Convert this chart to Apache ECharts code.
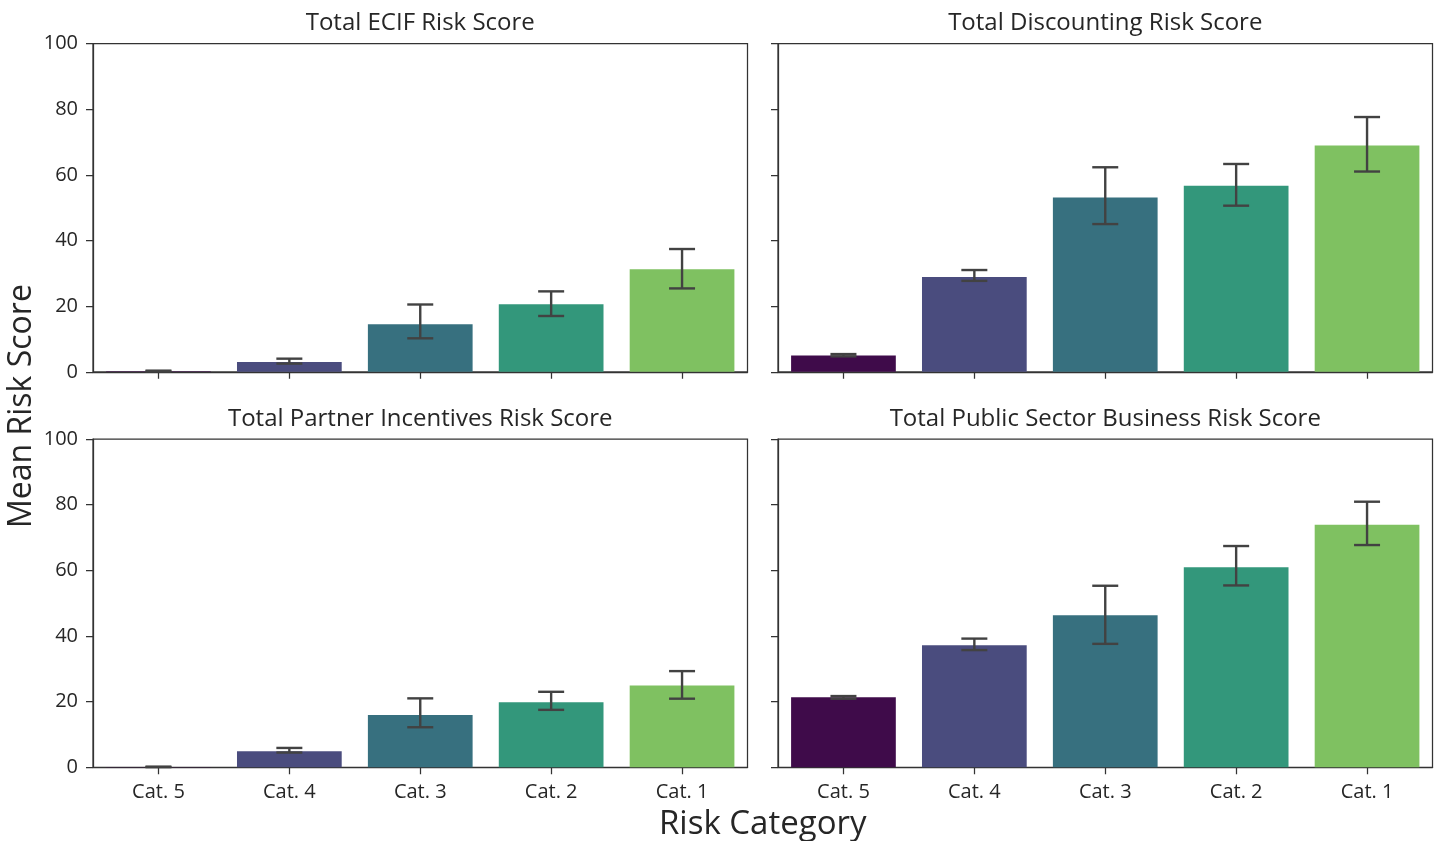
<!DOCTYPE html>
<html>
<head>
<meta charset="utf-8">
<title>Mean Risk Score by Risk Category</title>
<script src="https://cdn.jsdelivr.net/npm/echarts@6/dist/echarts.min.js"></script>
<style>
  html, body { margin: 0; padding: 0; background: #ffffff; }
  #chart { width: 1439px; height: 841px; }
</style>
</head>
<body>
<div id="chart"></div>
<script>
// Risk categories along the x axis
const categories = ['Cat. 5', 'Cat. 4', 'Cat. 3', 'Cat. 2', 'Cat. 1'];
// Bar colours per category (viridis, slightly desaturated)
const catColors = ['#3f0b4a', '#4a4c7e', '#37707f', '#33977b', '#7fc161'];
// Panel titles
const panelTitles = [
  'Total ECIF Risk Score',
  'Total Discounting Risk Score',
  'Total Partner Incentives Risk Score',
  'Total Public Sector Business Risk Score'
];
// Mean scores per panel
const ecifMean = [0.2, 3.0, 14.5, 20.6, 31.2];
const discountingMean = [5.0, 28.9, 53.1, 56.7, 68.9];
const partnerMean = [0.1, 4.9, 15.9, 19.8, 24.9];
const publicSectorMean = [21.3, 37.2, 46.3, 60.9, 73.9];
// Error bar lower bounds per panel
const ecifLow = [0.1, 2.5, 10.2, 17.0, 25.4];
const discountingLow = [4.7, 27.7, 45.0, 50.6, 61.0];
const partnerLow = [0.05, 4.5, 12.2, 17.5, 20.9];
const publicSectorLow = [20.9, 35.7, 37.6, 55.4, 67.7];
// Error bar upper bounds per panel
const ecifHigh = [0.35, 4.0, 20.5, 24.5, 37.4];
const discountingHigh = [5.4, 31.0, 62.3, 63.3, 77.6];
const partnerHigh = [0.2, 5.9, 21.0, 23.0, 29.3];
const publicSectorHigh = [21.7, 39.2, 55.3, 67.4, 80.9];
// Y axis tick values
const yTicks = [0, 20, 40, 60, 80, 100];

const means = [ecifMean, discountingMean, partnerMean, publicSectorMean];
const lows = [ecifLow, discountingLow, partnerLow, publicSectorLow];
const highs = [ecifHigh, discountingHigh, partnerHigh, publicSectorHigh];

const FONT = '"Open Sans", "Noto Sans", sans-serif';
const AXIS_COLOR = '#333333';
const TEXT_COLOR = '#262626';
const ERR_COLOR = '#424242';

// Panel rectangles: 2 x 2 layout with shared axes
const panelLeft = [93, 778];
const panelTop = [43.5, 439];
const panelW = 654.5;
const panelH = 328.3;

const grids = [], xAxes = [], yAxes = [], series = [], titles = [];

for (let i = 0; i < 4; i++) {
  const col = i % 2, row = Math.floor(i / 2);
  const left = panelLeft[col], top = panelTop[row];
  grids.push({
    left: left, top: top, width: panelW, height: panelH,
    show: true, borderColor: AXIS_COLOR, borderWidth: 1.25,
    backgroundColor: 'transparent', containLabel: false
  });
  xAxes.push({
    type: 'category', gridIndex: i, data: categories,
    boundaryGap: true,
    axisLine: { show: true, lineStyle: { color: AXIS_COLOR, width: 1.25 } },
    axisTick: { show: true, alignWithLabel: true, length: 7, lineStyle: { color: AXIS_COLOR, width: 1.25 } },
    axisLabel: {
      show: row === 1, margin: 15, fontSize: 20, color: TEXT_COLOR, fontFamily: FONT
    },
    splitLine: { show: false }
  });
  yAxes.push({
    type: 'value', gridIndex: i, min: 0, max: 100, interval: 20,
    axisLine: { show: true, lineStyle: { color: AXIS_COLOR, width: 1.25 } },
    axisTick: { show: true, length: 7, lineStyle: { color: AXIS_COLOR, width: 1.25 } },
    axisLabel: {
      show: col === 0, margin: 15, fontSize: 20, color: TEXT_COLOR, fontFamily: FONT,
      formatter: v => (yTicks.indexOf(v) >= 0 ? String(v) : '')
    },
    splitLine: { show: false }
  });
  series.push({
    type: 'bar', xAxisIndex: i, yAxisIndex: i,
    barWidth: '80%',
    data: means[i].map((v, k) => ({
      value: v,
      itemStyle: { color: catColors[k] }
    })),
    silent: true, animation: false
  });
  const errData = categories.map((c, k) => [k, lows[i][k], highs[i][k]]);
  series.push({
    type: 'custom', xAxisIndex: i, yAxisIndex: i,
    data: errData,
    encode: { x: 0, y: [1, 2] },
    renderItem: function (params, api) {
      const x = api.value(0);
      const lo = api.coord([x, api.value(1)]);
      const hi = api.coord([x, api.value(2)]);
      const half = 13;
      const style = { stroke: ERR_COLOR, lineWidth: 2.4, fill: null };
      return {
        type: 'group',
        children: [
          { type: 'line', shape: { x1: lo[0], y1: lo[1], x2: hi[0], y2: hi[1] }, style: style },
          { type: 'line', shape: { x1: lo[0] - half, y1: lo[1], x2: lo[0] + half, y2: lo[1] }, style: style },
          { type: 'line', shape: { x1: hi[0] - half, y1: hi[1], x2: hi[0] + half, y2: hi[1] }, style: style }
        ]
      };
    },
    z: 5, silent: true, animation: false
  });
  titles.push({
    text: panelTitles[i],
    left: left + panelW / 2, top: top - 32,
    textAlign: 'center', padding: 0,
    textStyle: { fontSize: 24, fontWeight: 'normal', color: TEXT_COLOR, fontFamily: FONT }
  });
}

const chart = echarts.init(document.getElementById('chart'), null, { renderer: 'canvas' });
chart.setOption({
  backgroundColor: '#ffffff',
  animation: false,
  title: titles,
  grid: grids,
  xAxis: xAxes,
  yAxis: yAxes,
  series: series,
  graphic: [
    {
      type: 'text', x: (93 + 1432.5) / 2, y: 825,
      style: {
        text: 'Risk Category', fontSize: 33, fill: TEXT_COLOR, fontFamily: FONT,
        align: 'center', verticalAlign: 'middle'
      }
    },
    {
      type: 'text', x: 22, y: 406, rotation: Math.PI / 2,
      style: {
        text: 'Mean Risk Score', fontSize: 32, fill: TEXT_COLOR, fontFamily: FONT,
        align: 'center', verticalAlign: 'middle'
      }
    }
  ]
});
</script>
</body>
</html>
